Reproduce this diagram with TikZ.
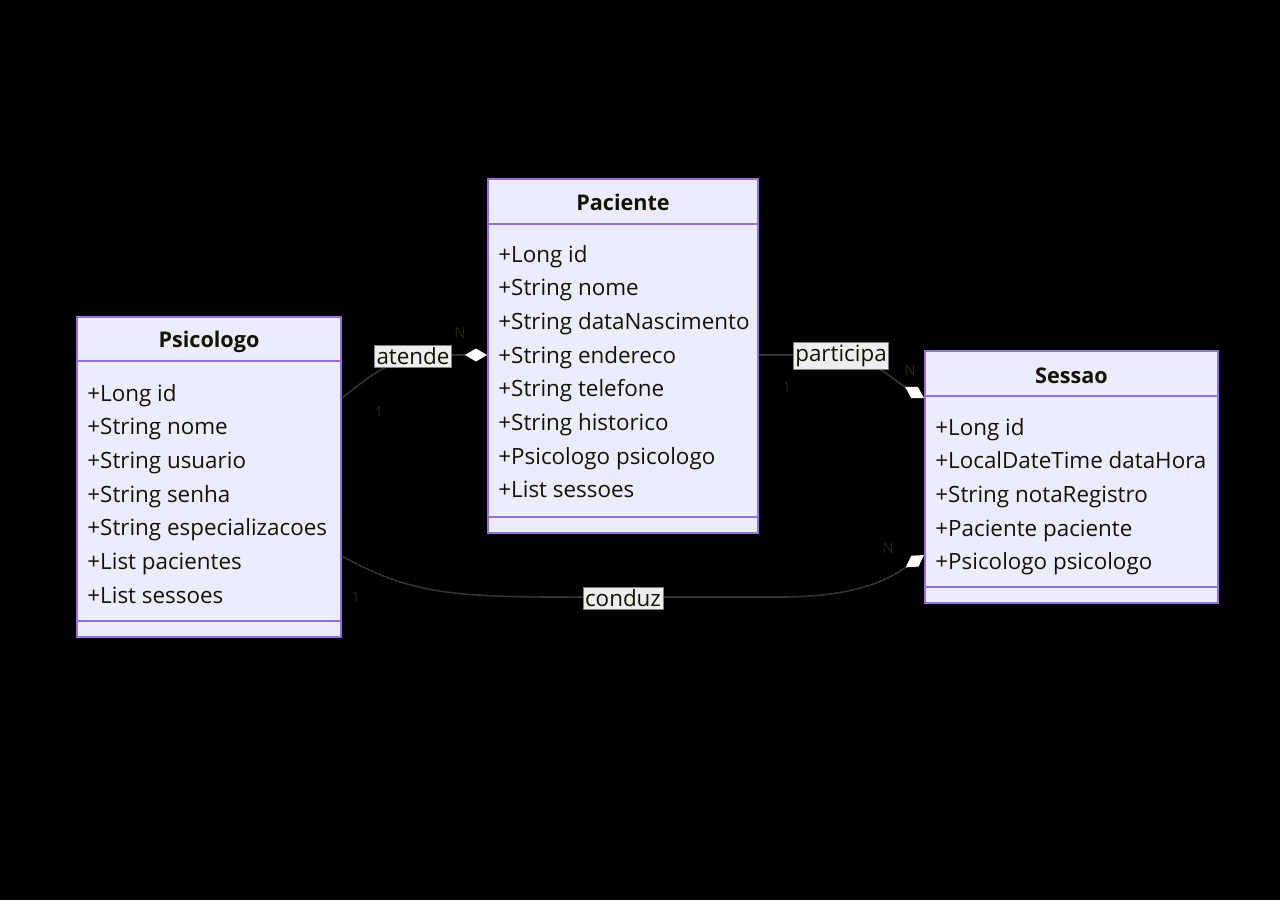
\documentclass[tikz,border=0pt]{standalone}
\usepackage{fontspec}
\setmainfont{Open Sans}
\usetikzlibrary{arrows.meta}
\definecolor{boxfill}{RGB}{236,236,255}
\definecolor{boxline}{RGB}{147,112,219}
\definecolor{txt}{RGB}{19,19,0}
\definecolor{edge}{RGB}{51,51,51}
\definecolor{lblfill}{RGB}{238,238,240}
\definecolor{cardtxt}{RGB}{38,38,8}
\begin{document}
\begin{tikzpicture}[x=0.5pt,y=-0.5pt,
  classbox/.style={draw=boxline, fill=boxfill, line width=1pt, inner sep=0pt},
  title/.style={font=\bfseries\fontsize{10.8}{12}\selectfont, text=txt},
  attr/.style={font=\fontsize{11.2}{13}\selectfont, text=txt, anchor=base west, inner sep=0pt},
  sep/.style={draw=boxline, line width=1pt},
  rel/.style={draw=edge, line width=0.8pt, -{Diamond[fill=white, color=white, length=11pt, width=6.5pt]}},
  lbl/.style={fill=lblfill, draw=gray, line width=0.3pt, inner xsep=1pt, inner ysep=1.2pt, font=\fontsize{11.2}{13}\selectfont, text=txt},
  card/.style={text=cardtxt, font=\fontsize{7.5}{8}\selectfont, inner sep=0pt}
]
\fill[black] (0,0) rectangle (1280,900);
\useasboundingbox (0,0) rectangle (1280,900);

% classes
\node[classbox, minimum width=132pt, minimum height=160pt] (psicologo) at (209,477) {};
\node[classbox, minimum width=135pt, minimum height=177pt] (paciente) at (623,356) {};
\node[classbox, minimum width=146.5pt, minimum height=126pt] (sessao) at (1071.5,477) {};

\draw[sep] (psicologo.west |- 0,361) -- (psicologo.east |- 0,361);
\draw[sep] (psicologo.west |- 0,621) -- (psicologo.east |- 0,621);
\draw[sep] (paciente.west |- 0,224) -- (paciente.east |- 0,224);
\draw[sep] (paciente.west |- 0,517) -- (paciente.east |- 0,517);
\draw[sep] (sessao.west |- 0,396) -- (sessao.east |- 0,396);
\draw[sep] (sessao.west |- 0,587) -- (sessao.east |- 0,587);

\node[title] (tpsi) at (209,342) {Psicologo};
\node[title] (tpac) at (623,202) {Paciente};
\node[title] (tses) at (1071.5,376) {Sessao};

\foreach \t [count=\i] in {+Long id, +String nome, +String usuario, +String senha,
  +String especializacoes, +List pacientes, +List sessoes}
  \node[attr] at (87,{367.3+33.7*\i}) {\t};
\foreach \t [count=\i] in {+Long id, +String nome, +String dataNascimento, +String endereco,
  +String telefone, +String historico, +Psicologo psicologo, +List sessoes}
  \node[attr] at (498,{228.3+33.7*\i}) {\t};
\foreach \t [count=\i] in {+Long id, +LocalDateTime dataHora, +String notaRegistro,
  +Paciente paciente, +Psicologo psicologo}
  \node[attr] at (935,{401.3+33.7*\i}) {\t};

% relations
\coordinate (a1) at (psicologo.east |- 0,398);
\coordinate (a2) at (paciente.west |- 0,355);
\coordinate (p1) at (paciente.east |- 0,355);
\coordinate (p2) at (sessao.west |- 0,398);
\coordinate (c1) at (psicologo.east |- 0,556);
\coordinate (c2) at (sessao.west |- 0,555);

\draw[rel] (a1) .. controls (375,372) and (395,355) .. (440,355) -- (a2);
\draw[rel] (p1) -- (830,355) .. controls (875,358) and (890,378) .. (p2);
\draw[rel] (c1) .. controls (420,600) and (470,597) .. (623,597)
  -- (780,597) .. controls (860,597) and (890,578) .. (c2);

\node[lbl] (latende) at (413,356) {atende};
\node[lbl] (lparticipa) at (841,356) {participa};
\node[lbl] (lconduz) at (623,598) {conduz};

\node[card] at (460,333) {N};
\node[card] at (379,412) {1};
\node[card] at (787,387) {1};
\node[card] at (910,370) {N};
\node[card] at (356,597) {1};
\node[card] at (888,548) {N};

\end{tikzpicture}
\end{document}
